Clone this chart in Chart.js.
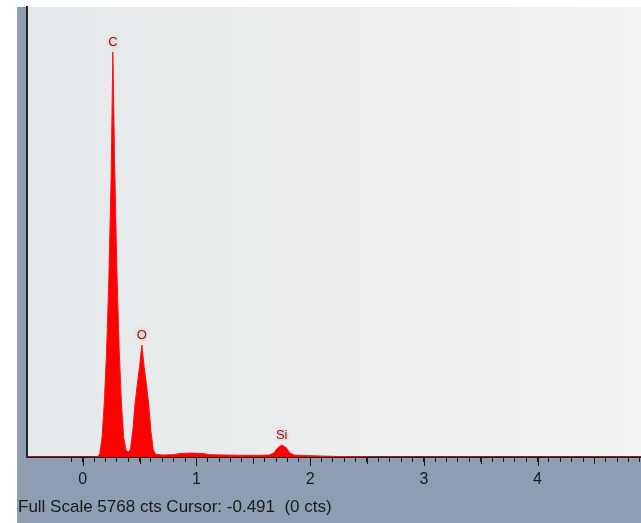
<!DOCTYPE html>
<html>
<head>
<meta charset="utf-8">
<script src="https://cdn.jsdelivr.net/npm/chart.js@4"></script>
<style>
  html, body { margin: 0; padding: 0; background: #fff; }
  #wrap { position: relative; width: 641px; height: 523px; }
  #status {
    position: absolute; left: 18px; top: 497px;
    font: 17px "Liberation Sans", Arial, sans-serif; color: #1a1a1a;
    white-space: pre; line-height: 20px;
  }
</style>
</head>
<body>
<div id="wrap">
  <canvas id="spectrum" width="641" height="523"></canvas>
  <div id="status">Full Scale 5768 cts Cursor: -0.491  (0 cts)</div>
</div>
<script>
// spectrum (keV / counts)
const energies = [-0.49, 0.12, 0.13, 0.15, 0.17, 0.19, 0.21, 0.23, 0.25, 0.265, 0.28, 0.30, 0.32, 0.34, 0.36, 0.38, 0.40,
  0.42, 0.44, 0.46, 0.48, 0.50, 0.52, 0.54, 0.56, 0.58, 0.60, 0.62, 0.64, 0.70, 0.80, 0.85, 0.95, 1.05, 1.12, 1.25,
  1.40, 1.55, 1.64, 1.68, 1.71, 1.75, 1.79, 1.82, 1.86, 1.95, 2.10, 2.30, 2.60, 4.91];
const counts = [0, 0, 0, 40, 250, 700, 1350, 2300, 3600, 5190, 3800, 2400, 1400, 700, 250, 90, 60,
  100, 330, 680, 930, 1160, 1435, 1160, 930, 680, 330, 100, 35, 25, 30, 45, 50, 45, 30, 25,
  22, 22, 25, 50, 110, 154, 120, 55, 25, 20, 12, 5, 0, 0];

const peakNames = ['C', 'O', 'Si'];
const peakEnergies = [0.265, 0.52, 1.75];
const peakCounts = [5190, 1435, 154];

const fullScale = 5768;
const xMin = -0.49, xMax = 4.91;
const axisLabels = [0, 1, 2, 3, 4];

// minor ticks every 0.1 keV, starting just left of zero
const tickValues = [];
for (let i = -1; i <= 49; i++) tickValues.push(i / 10);

const backdrop = {
  id: 'backdrop',
  beforeDraw(chart) {
    const { ctx, chartArea: a } = chart;
    ctx.save();
    ctx.fillStyle = '#ffffff';
    ctx.fillRect(0, 0, chart.width, chart.height);
    ctx.fillStyle = '#8e9eb2';
    ctx.fillRect(17, 7, chart.width - 17, chart.height - 7);
    const g = ctx.createLinearGradient(a.left, 0, a.right, 0);
    g.addColorStop(0, '#e6e9eb');
    g.addColorStop(0.6, '#eceeef');
    g.addColorStop(1, '#f1f2f2');
    ctx.fillStyle = g;
    ctx.fillRect(a.left, a.top, a.right - a.left, a.bottom - a.top);
    ctx.restore();
  }
};

const marks = {
  id: 'marks',
  afterDraw(chart) {
    const { ctx, scales: { x, y }, chartArea: a } = chart;
    ctx.save();
    // longer ticks at whole and half keV
    ctx.strokeStyle = '#1a1a1a';
    ctx.lineWidth = 1;
    for (let v = 0; v <= 4.5; v += 0.5) {
      const px = Math.round(x.getPixelForValue(v)) + 0.5;
      const len = Number.isInteger(v) ? 9 : 7;
      ctx.beginPath();
      ctx.moveTo(px, a.bottom);
      ctx.lineTo(px, a.bottom + len);
      ctx.stroke();
    }
    // element labels
    ctx.font = '13px "Liberation Sans", Arial, sans-serif';
    ctx.textAlign = 'center';
    ctx.textBaseline = 'bottom';
    ctx.shadowColor = 'rgba(255,120,120,0.9)';
    ctx.shadowBlur = 4;
    ctx.fillStyle = '#7a2323';
    peakNames.forEach((n, i) => {
      ctx.fillText(n, x.getPixelForValue(peakEnergies[i]), y.getPixelForValue(peakCounts[i]) - 3);
    });
    ctx.restore();
  }
};

new Chart(document.getElementById('spectrum'), {
  type: 'line',
  data: {
    datasets: [{
      data: energies.map((e, i) => ({ x: e, y: counts[i] })),
      fill: 'origin',
      backgroundColor: '#ff0000',
      borderColor: '#ff1010',
      borderWidth: 1,
      pointRadius: 0,
      tension: 0
    }]
  },
  options: {
    responsive: false,
    animation: false,
    layout: { padding: { left: 27, top: 7, right: 0, bottom: 0 } },
    plugins: { legend: { display: false }, tooltip: { enabled: false } },
    scales: {
      x: {
        type: 'linear',
        min: xMin,
        max: xMax,
        afterBuildTicks: s => { s.ticks = tickValues.map(v => ({ value: v })); },
        afterFit: s => { s.height = 66; s.paddingLeft = 0; s.paddingRight = 0; },
        border: { color: '#1f1f1f', width: 2 },
        grid: { drawOnChartArea: false, tickLength: 5, color: '#1a1a1a' },
        ticks: {
          autoSkip: false,
          maxRotation: 0,
          padding: 8,
          color: '#1c1c1c',
          font: { family: '"Liberation Sans", Arial, sans-serif', size: 16 },
          callback: v => {
            const r = Math.round(v);
            return Math.abs(v - r) < 1e-6 && axisLabels.includes(r) ? String(r) : '';
          }
        }
      },
      y: {
        min: 0,
        max: fullScale,
        afterFit: s => { s.width = 0; s.paddingTop = 0; s.paddingBottom = 0; },
        border: { color: '#262626', width: 2 },
        grid: { display: false, drawTicks: false },
        ticks: { display: false }
      }
    }
  },
  plugins: [backdrop, marks]
});
</script>
</body>
</html>
